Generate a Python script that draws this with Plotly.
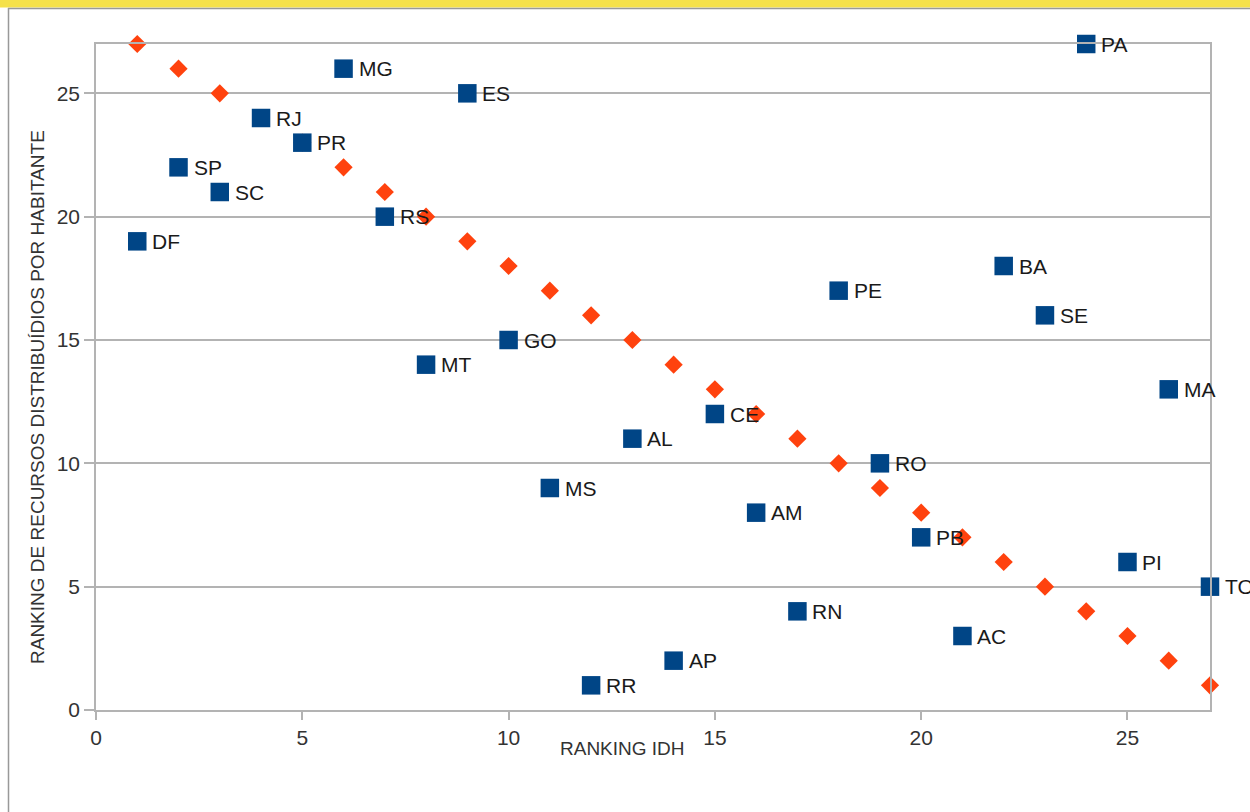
import plotly.graph_objects as go

states = ["DF", "SP", "SC", "RJ", "PR", "MG", "RS", "MT", "ES", "GO", "MS", "RR", "AL", "AP",
          "CE", "AM", "RN", "PE", "RO", "PB", "AC", "BA", "SE", "PA", "PI", "MA", "TO"]
ranking_idh = [1, 2, 3, 4, 5, 6, 7, 8, 9, 10, 11, 12, 13, 14, 15, 16, 17, 18, 19, 20, 21, 22, 23, 24, 25, 26, 27]
ranking_recursos = [19, 22, 21, 24, 23, 26, 20, 14, 25, 15, 9, 1, 11, 2, 12, 8, 4, 17, 10, 7, 3, 18, 16, 27, 6, 13, 5]

ideal_x = [1, 2, 3, 4, 5, 6, 7, 8, 9, 10, 11, 12, 13, 14, 15, 16, 17, 18, 19, 20, 21, 22, 23, 24, 25, 26, 27]
ideal_y = [27, 26, 25, 24, 23, 22, 21, 20, 19, 18, 17, 16, 15, 14, 13, 12, 11, 10, 9, 8, 7, 6, 5, 4, 3, 2, 1]

W, H = 1250, 812
L, R, T, B = 96, 40, 44, 102
pw, ph = W - L - R, H - T - B
FONT = "Liberation Sans, Arial"

def px(x):
    return (x - L) / pw

def py(y):
    return (H - B - y) / ph

fig = go.Figure()
fig.add_trace(go.Scatter(
    x=ideal_x, y=ideal_y, mode="markers",
    marker=dict(symbol="diamond", size=14, color="#ff420e", line=dict(width=0)),
    showlegend=False, cliponaxis=False, hoverinfo="skip"))
fig.add_trace(go.Scatter(
    x=ranking_idh, y=ranking_recursos, mode="markers",
    marker=dict(symbol="square", size=18.5, color="#004586", line=dict(width=0)),
    showlegend=False, cliponaxis=False))

for s, x, y in zip(states, ranking_idh, ranking_recursos):
    fig.add_annotation(x=x, y=y, text=s, showarrow=False, xanchor="left", yanchor="middle",
                       xshift=13, font=dict(family=FONT, size=21, color="#1a1a1a"))

axis_common = dict(showline=True, linecolor="#b3b3b3", linewidth=1.5, mirror=True,
                   ticks="outside", tickcolor="#b3b3b3", tickwidth=1.5,
                   tickfont=dict(family=FONT, size=21, color="#333333"),
                   zeroline=False)
fig.update_xaxes(range=[0, 27], dtick=5, tick0=0, showgrid=False, ticklen=8, **axis_common)
fig.update_yaxes(range=[0, 27], dtick=5, tick0=0, showgrid=True, gridcolor="#b3b3b3",
                 gridwidth=1.5, ticklen=10, **axis_common)

fig.add_annotation(xref="paper", yref="paper", x=px(622), y=py(748), text="RANKING IDH",
                   showarrow=False, xanchor="center", yanchor="middle",
                   font=dict(family=FONT, size=19, color="#333333"))
fig.add_annotation(xref="paper", yref="paper", x=px(37), y=py(397),
                   text="RANKING DE RECURSOS DISTRIBUÍDIOS POR HABITANTE",
                   showarrow=False, textangle=-90, xanchor="center", yanchor="middle",
                   font=dict(family=FONT, size=19, color="#333333"))

# yellow top band and frame lines
fig.add_shape(type="rect", xref="paper", yref="paper", x0=px(0), x1=px(W), y0=py(0), y1=py(7.5),
              fillcolor="#f5e14a", line=dict(width=0), layer="below")
fig.add_shape(type="line", xref="paper", yref="paper", x0=px(8), x1=px(W), y0=py(8.5), y1=py(8.5),
              line=dict(color="#999999", width=1.5))
fig.add_shape(type="line", xref="paper", yref="paper", x0=px(8.5), x1=px(8.5), y0=py(8), y1=py(H),
              line=dict(color="#999999", width=1.5))

fig.update_layout(width=W, height=H, margin=dict(l=L, r=R, t=T, b=B),
                  paper_bgcolor="white", plot_bgcolor="white")
fig.write_html("out.html", config={"displayModeBar": False},
               post_script="document.body.style.margin='0';document.body.style.overflow='hidden';")
